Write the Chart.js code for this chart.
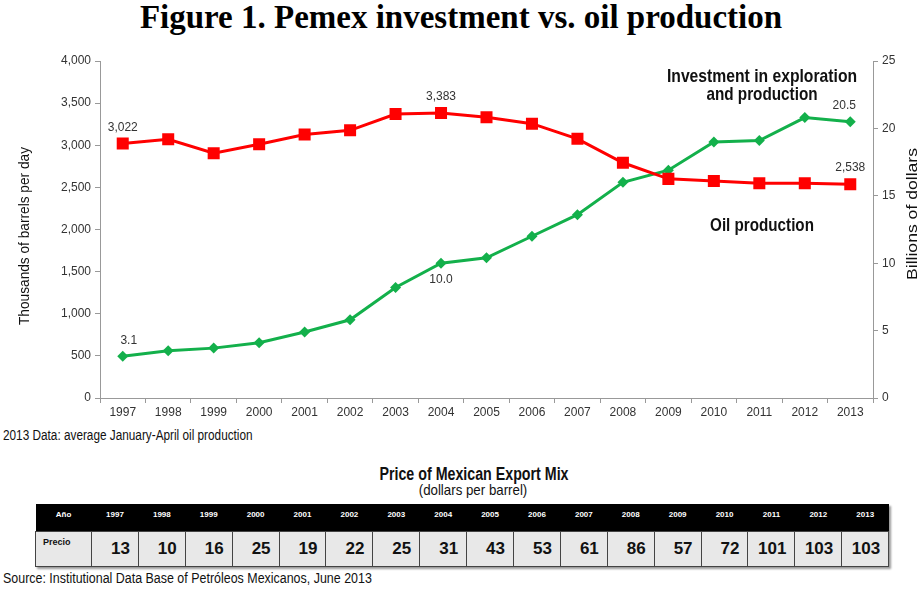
<!DOCTYPE html>
<html>
<head>
<meta charset="utf-8">
<script src="https://cdn.jsdelivr.net/npm/chart.js@4.4.1/dist/chart.umd.min.js"></script>
<style>
  body { margin: 0; background: #fff; width: 922px; height: 592px; position: relative; overflow: hidden; }
  #title { position: absolute; left: 0; top: 0; width: 922px; text-align: center; font: bold 33px "Liberation Serif", "Times New Roman", serif; color: #000; line-height: 34px; }
  #wrap { position: absolute; left: 0; top: 0; width: 922px; height: 425px; }
  .note { position: absolute; color: #111; white-space: nowrap; font-family: "Liberation Sans", Arial, sans-serif; line-height: 1; }
  .note.center { transform-origin: 50% 50%; }
  .note.left { transform-origin: 0 50%; }
  #price_table { position: absolute; left: 35px; top: 504px; border-collapse: collapse; table-layout: fixed; box-shadow: 2px 2px 2px #999; }
  #price_table td { padding: 0; }
  #price_table tr.head td { background: #000; color: #fff; font: bold 8px "Liberation Sans", Arial, sans-serif; height: 27px; text-align: center; vertical-align: top; padding-top: 6px; box-sizing: border-box; }
  #price_table tr.vals td { background: #e8e8e8; border: 1px solid #444; height: 29px; font: bold 17px "Liberation Sans", Arial, sans-serif; color: #111; text-align: right; padding-right: 8px; }
  #price_table tr.vals td.first { font-size: 9px; text-align: left; vertical-align: top; padding: 5px 0 0 7px; }
</style>
</head>
<body>
<div id="title">Figure 1. Pemex investment vs. oil production</div>
<div id="wrap"><canvas id="pemex_chart"></canvas></div>

<!-- data-w = width the text should occupy (the original uses a condensed face) -->
<div class="note center" data-w="190" style="left:762px; top:66px; font-weight:bold; font-size:19px;">Investment in exploration</div>
<div class="note center" data-w="111" style="left:762px; top:84px; font-weight:bold; font-size:19px;">and production</div>
<div class="note center" data-w="104" style="left:762px; top:215px; font-weight:bold; font-size:19px;">Oil production</div>
<div class="note left" data-w="250" style="left:3px; top:428px; font-size:14px;">2013 Data: average January-April oil production</div>
<div class="note center" data-w="189" style="left:474px; top:465px; font-weight:bold; font-size:18px;">Price of Mexican Export Mix</div>
<div class="note center" data-w="109" style="left:473px; top:482px; font-size:15px;">(dollars per barrel)</div>
<table id="price_table"></table>
<div class="note left" data-w="369" style="left:3px; top:571px; font-size:14px;">Source: Institutional Data Base of Petróleos Mexicanos, June 2013</div>

<script>
const years = ["1997", "1998", "1999", "2000", "2001", "2002", "2003", "2004", "2005", "2006", "2007", "2008", "2009", "2010", "2011", "2012", "2013"];
// thousands of barrels per day (left axis)
const oilProduction = [3022, 3070, 2906, 3012, 3127, 3177, 3371, 3383, 3333, 3256, 3076, 2792, 2601, 2577, 2550, 2548, 2538];
// billions of dollars (right axis)
const investment = [3.1, 3.5, 3.7, 4.1, 4.9, 5.8, 8.2, 10.0, 10.4, 12.0, 13.6, 16.0, 16.9, 19.0, 19.1, 20.8, 20.5];
// price of mexican export mix, dollars per barrel
const exportPrice = [13, 10, 16, 25, 19, 22, 25, 31, 43, 53, 61, 86, 57, 72, 101, 103, 103];

const leftTicks = [0, 500, 1000, 1500, 2000, 2500, 3000, 3500, 4000];
const rightTicks = [0, 5, 10, 15, 20, 25];

// which points get a value label: [datasetIndex, pointIndex, "above"|"below"]
const pointLabels = [
  [0, 0, "above"], [0, 7, "above"], [0, 16, "above"],
  [1, 0, "above"], [1, 7, "below"], [1, 16, "above"],
];

// build the price table
function buildTable() {
  const table = document.getElementById("price_table");
  let head = '<tr class="head"><td style="width:56px">Año</td>';
  let vals = '<tr class="vals"><td class="first">Precio</td>';
  years.forEach((y, i) => {
    head += `<td style="width:46.9px">${y}</td>`;
    vals += `<td>${exportPrice[i]}</td>`;
  });
  table.innerHTML = head + "</tr>" + vals + "</tr>";
}
buildTable();

// squeeze the notes horizontally to look like the condensed face
document.querySelectorAll(".note[data-w]").forEach(el => {
  const k = Number(el.dataset.w) / el.offsetWidth;
  if (el.classList.contains("center")) {
    el.style.transform = `translateX(-50%) scaleX(${k})`;
  } else {
    el.style.transform = `scaleX(${k})`;
  }
});

const valueLabelPlugin = {
  id: "valueLabels",
  afterDatasetsDraw(chart) {
    const ctx = chart.ctx;
    ctx.save();
    ctx.font = '12px "Liberation Sans", Arial, sans-serif';
    ctx.fillStyle = "#333";
    ctx.textAlign = "center";
    pointLabels.forEach(([ds, idx, pos]) => {
      const el = chart.getDatasetMeta(ds).data[idx];
      const v = chart.data.datasets[ds].data[idx];
      const txt = ds === 0 ? v.toLocaleString("en-US") : v.toFixed(1);
      let x = el.x, y;
      if (pos === "above") {
        ctx.textBaseline = "bottom";
        y = el.y - 10;
      } else {
        ctx.textBaseline = "top";
        y = el.y + 10;
      }
      if (ds === 1 && idx === 0) x += 6;
      if (ds === 1 && idx === 16) x -= 6;
      ctx.fillText(txt, x, y);
    });
    ctx.restore();
  }
};

function drawSqueezedVertical(ctx, text, x, y, length) {
  ctx.save();
  ctx.font = '15px "Liberation Sans", Arial, sans-serif';
  ctx.fillStyle = "#111";
  ctx.textAlign = "center";
  ctx.textBaseline = "middle";
  const w = ctx.measureText(text).width;
  ctx.translate(x, y);
  ctx.rotate(-Math.PI / 2);
  ctx.scale(length / w, 1);
  ctx.fillText(text, 0, 0);
  ctx.restore();
}

const axisTitlePlugin = {
  id: "axisTitles",
  afterDraw(chart) {
    drawSqueezedVertical(chart.ctx, "Thousands of barrels per day", 25, 236, 178);
    drawSqueezedVertical(chart.ctx, "Billions of dollars", 913, 214, 132);
  }
};

const tickFont = { family: '"Liberation Sans", Arial, sans-serif', size: 12 };

new Chart(document.getElementById("pemex_chart"), {
  type: "line",
  data: {
    labels: years,
    datasets: [
      {
        label: "Oil production",
        data: oilProduction,
        yAxisID: "y",
        borderColor: "#ff0000",
        backgroundColor: "#ff0000",
        borderWidth: 3,
        pointStyle: "rect",
        pointRadius: 8.5,
        pointBorderWidth: 0,
        tension: 0,
      },
      {
        label: "Investment in exploration and production",
        data: investment,
        yAxisID: "y1",
        borderColor: "#13b04b",
        backgroundColor: "#13b04b",
        borderWidth: 3,
        pointStyle: "rectRot",
        pointRadius: 5.5,
        pointBorderWidth: 0,
        tension: 0,
      },
    ],
  },
  options: {
    responsive: true,
    maintainAspectRatio: false,
    animation: false,
    layout: { padding: { top: 61, bottom: 0, left: 0, right: 0 } },
    plugins: { legend: { display: false }, tooltip: { enabled: false } },
    scales: {
      x: {
        offset: true,
        grid: { display: true, drawOnChartArea: false, offset: true, tickLength: 5, color: "#999" },
        border: { color: "#999" },
        ticks: { font: tickFont, color: "#333", padding: 2, maxRotation: 0, autoSkip: false },
        afterFit(scale) { scale.height = 27; },
      },
      y: {
        position: "left",
        min: 0,
        max: 4000,
        afterBuildTicks(scale) { scale.ticks = leftTicks.map(v => ({ value: v })); },
        grid: { display: true, drawOnChartArea: false, tickLength: 5, color: "#999" },
        border: { color: "#999" },
        ticks: { font: tickFont, color: "#333", padding: 4, callback: v => v.toLocaleString("en-US") },
        afterFit(scale) { scale.width = 100; },
      },
      y1: {
        position: "right",
        min: 0,
        max: 25,
        afterBuildTicks(scale) { scale.ticks = rightTicks.map(v => ({ value: v })); },
        grid: { display: true, drawOnChartArea: false, tickLength: 5, color: "#999" },
        border: { color: "#999" },
        ticks: { font: tickFont, color: "#333", padding: 4 },
        afterFit(scale) { scale.width = 49; },
      },
    },
  },
  plugins: [valueLabelPlugin, axisTitlePlugin],
});
</script>
</body>
</html>
